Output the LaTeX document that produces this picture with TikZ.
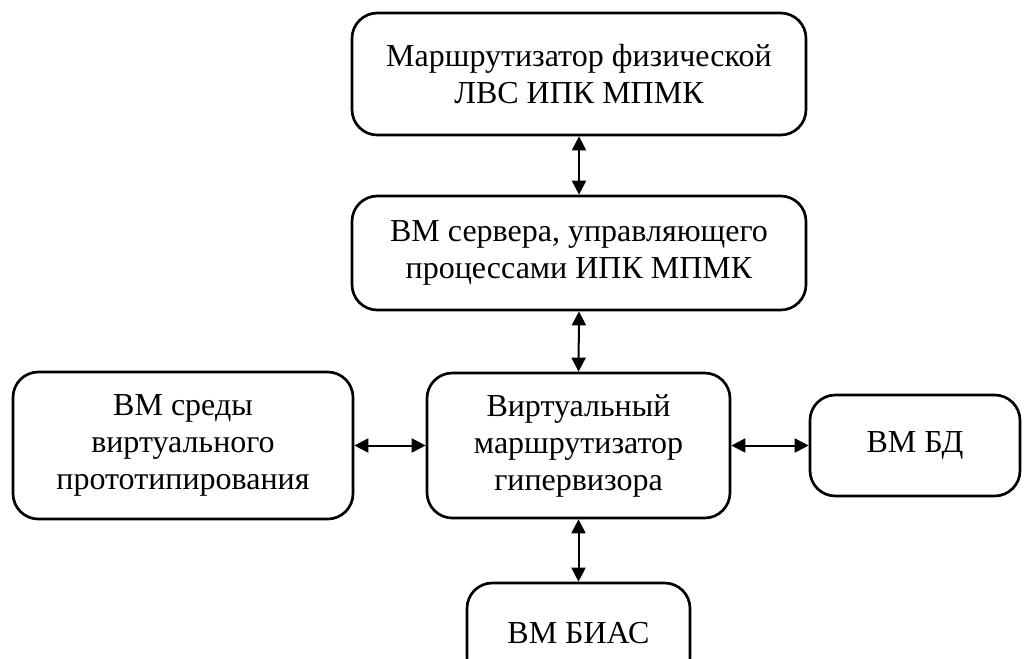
\documentclass[tikz,border=0pt]{standalone}
\usepackage{fontspec}
\setmainfont{Liberation Serif}
\usetikzlibrary{arrows.meta}

\begin{document}
\begin{tikzpicture}[x=.75pt,y=.75pt,
  font=\fontsize{24}{27.75}\selectfont,
  block/.style={draw=black,line width=2pt,rounded corners=19pt,
                fill=white,align=center,inner sep=0pt},
  link/.style={{Triangle[length=10.5pt,width=10.5pt]}-{Triangle[length=10.5pt,width=10.5pt]},
               draw=black,line width=1.5pt}]
\useasboundingbox (0,0) rectangle (1027,-658);

% upper chain: physical router and management server
\node[block,minimum width=340.5pt,minimum height=91.5pt] (router) at (579,-74)
  {Маршрутизатор физической\\ЛВС ИПК МПМК};
\node[block,minimum width=340.5pt,minimum height=85.5pt] (server) at (579,-253)
  {ВМ сервера, управляющего\\процессами ИПК МПМК};
% hypervisor router with the attached virtual machines
\node[block,minimum width=227.25pt,minimum height=108.75pt] (hyper) at (578.5,-445.5)
  {Виртуальный\\маршрутизатор\\гипервизора};
\node[block,minimum width=255pt,minimum height=110.25pt] (proto) at (183,-445.5)
  {ВМ среды\\виртуального\\прототипирования};
\node[block,minimum width=157.5pt,minimum height=75.75pt] (db) at (915,-445.5)
  {ВМ БД};
\node[block,minimum width=167.25pt,minimum height=75pt] (bias) at (578.5,-633)
  {ВМ БИАС};

\draw[link] (router.south) -- (server.north);
\draw[link] (server.south) -- (hyper.north);
\draw[link] (proto.east) -- (hyper.west);
\draw[link] (hyper.east) -- (db.west);
\draw[link] (hyper.south) -- (bias.north);
\end{tikzpicture}
\end{document}
